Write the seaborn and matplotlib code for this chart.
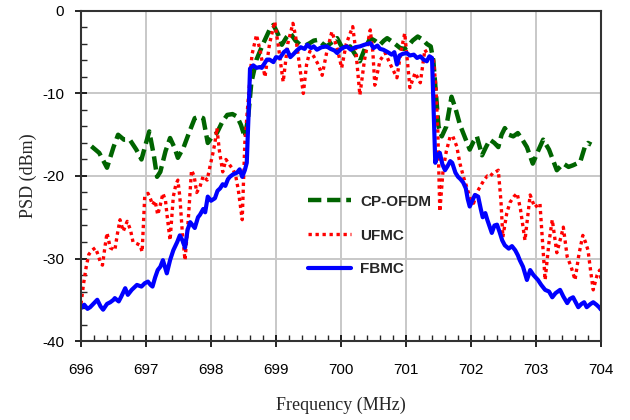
import pandas as pd
import seaborn as sns
import matplotlib.pyplot as plt
from matplotlib.ticker import MultipleLocator


sns.set_theme(style="white")
plt.rcParams["font.family"] = ["Liberation Sans", "DejaVu Sans"]
plt.rcParams["axes.unicode_minus"] = False

# CP-OFDM (green dashed)
ofdm_freq = [696.16, 696.28, 696.40, 696.50, 696.57, 696.66, 696.75, 696.85, 696.93, 697.00,
             697.05, 697.12, 697.17, 697.22, 697.30, 697.37, 697.44, 697.49, 697.58, 697.66,
             697.75, 697.82, 697.88, 697.95, 698.02, 698.09, 698.17, 698.25, 698.33, 698.40,
             698.46, 698.52, 698.57, 698.62, 698.70, 698.80, 698.90, 698.96, 699.03, 699.09,
             699.16, 699.22, 699.30, 699.37, 699.45, 699.52, 699.58, 699.65, 699.72, 699.78,
             699.86, 699.94, 700.00, 700.06, 700.14, 700.22, 700.29, 700.37, 700.45, 700.52,
             700.60, 700.66, 700.71, 700.80, 700.91, 700.97, 701.03, 701.10, 701.18, 701.26,
             701.32, 701.38, 701.42, 701.46, 701.50, 701.55, 701.62, 701.70, 701.76, 701.83,
             701.90, 701.98, 702.04, 702.09, 702.17, 702.23, 702.29, 702.36, 702.42, 702.47,
             702.52, 702.58, 702.65, 702.72, 702.79, 702.86, 702.95, 703.03, 703.11, 703.20,
             703.32, 703.42, 703.50, 703.57, 703.68, 703.75, 703.80, 703.85]
ofdm_psd = [-16.4, -17.2, -19.0, -16.5, -15.0, -15.6, -15.6, -16.8, -18.0, -16.0,
            -14.6, -17.5, -20.1, -19.5, -17.0, -15.4, -16.6, -17.8, -16.5, -14.8,
            -13.0, -12.8, -13.0, -16.0, -15.2, -14.8, -13.5, -12.6, -12.5, -12.8,
            -13.8, -15.3, -13.0, -8.7, -5.9, -4.0, -2.3, -1.7, -2.8, -4.1,
            -3.2, -2.7, -3.6, -4.1, -4.2, -3.9, -3.6, -3.5, -4.0, -4.3,
            -3.8, -3.3, -4.2, -4.7, -4.3, -5.3, -6.1, -4.5, -3.3, -3.6,
            -4.1, -3.6, -3.3, -3.8, -4.5, -4.6, -4.3, -3.6, -3.1, -3.5,
            -4.0, -4.3, -6.0, -10.0, -14.0, -15.2, -14.0, -10.4, -11.8, -13.8,
            -15.2, -16.8, -15.8, -15.2, -17.5, -16.5, -15.6, -16.0, -16.5, -15.0,
            -14.2, -15.0, -15.2, -14.8, -15.6, -16.5, -18.5, -17.0, -15.6, -16.8,
            -19.3, -18.5, -18.9, -18.7, -18.3, -16.5, -16.0, -16.2]

# UFMC (red dotted)
ufmc_freq = [696.00, 696.04, 696.08, 696.12, 696.17, 696.22, 696.26, 696.30, 696.33, 696.37,
             696.40, 696.45, 696.52, 696.56, 696.60, 696.65, 696.71, 696.76, 696.80, 696.86,
             696.91, 696.94, 696.98, 697.03, 697.07, 697.10, 697.14, 697.18, 697.22, 697.26,
             697.30, 697.32, 697.37, 697.42, 697.46, 697.49, 697.52, 697.56, 697.60, 697.65,
             697.70, 697.74, 697.78, 697.83, 697.88, 697.94, 697.98, 698.03, 698.06, 698.09,
             698.13, 698.18, 698.23, 698.29, 698.34, 698.38, 698.42, 698.48, 698.52, 698.58,
             698.63, 698.70, 698.76, 698.83, 698.90, 698.98, 699.04, 699.11, 699.18, 699.26,
             699.30, 699.36, 699.42, 699.47, 699.52, 699.58, 699.65, 699.71, 699.78, 699.86,
             699.94, 700.01, 700.08, 700.18, 700.23, 700.29, 700.36, 700.45, 700.49, 700.52,
             700.60, 700.68, 700.76, 700.86, 700.92, 700.98, 701.02, 701.06, 701.14, 701.22,
             701.29, 701.35, 701.42, 701.46, 701.49, 701.52, 701.57, 701.62, 701.68, 701.72,
             701.78, 701.83, 701.88, 701.94, 702.00, 702.04, 702.09, 702.14, 702.20, 702.25,
             702.29, 702.34, 702.38, 702.42, 702.46, 702.49, 702.55, 702.60, 702.66, 702.71,
             702.76, 702.83, 702.87, 702.91, 702.98, 703.03, 703.06, 703.11, 703.14, 703.20,
             703.25, 703.28, 703.32, 703.38, 703.42, 703.48, 703.54, 703.60, 703.66, 703.72,
             703.76, 703.80, 703.84, 703.88, 703.94, 703.98, 704.00]
ufmc_psd = [-35.5, -33.0, -31.0, -29.5, -29.0, -28.7, -29.5, -30.5, -30.8, -28.5,
            -26.9, -28.7, -29.0, -27.0, -25.3, -26.7, -25.5, -26.5, -28.0, -28.2,
            -28.4, -29.2, -22.5, -22.1, -22.8, -23.5, -23.0, -24.7, -23.5, -22.1,
            -23.0, -24.5, -27.8, -22.5, -21.0, -20.5, -22.5, -27.0, -30.2, -25.3,
            -19.3, -20.0, -22.0, -21.3, -20.0, -20.5, -19.0, -17.2, -16.0, -14.2,
            -17.0, -19.5, -18.0, -18.7, -19.2, -20.0, -21.7, -25.3, -16.0, -10.0,
            -5.3, -2.9, -5.0, -8.0, -4.0, -1.3, -4.5, -8.6, -4.0, -1.5,
            -3.0, -6.5, -10.0, -6.5, -4.9, -5.5, -6.5, -7.8, -5.0, -2.5,
            -4.5, -6.9, -4.0, -1.9, -5.0, -10.2, -6.0, -2.3, -5.0, -9.0,
            -6.0, -5.1, -6.5, -8.1, -5.0, -2.7, -6.0, -9.3, -7.5, -8.7,
            -4.7, -5.5, -5.7, -9.2, -14.8, -24.3, -19.3, -17.0, -15.2, -15.2,
            -16.4, -18.5, -20.0, -21.5, -23.0, -23.3, -22.0, -21.3, -20.5, -20.0,
            -20.1, -19.6, -19.5, -19.3, -23.0, -27.4, -24.5, -23.2, -22.5, -22.1,
            -24.0, -27.8, -25.0, -22.3, -23.8, -23.5, -23.3, -29.0, -32.6, -28.0,
            -25.3, -27.0, -29.3, -27.5, -26.2, -29.8, -31.0, -32.6, -29.5, -27.2,
            -28.0, -29.0, -31.5, -33.8, -32.0, -31.4, -32.6]

# FBMC (blue solid)
fbmc_freq = [696.00, 696.05, 696.10, 696.14, 696.20, 696.25, 696.30, 696.34, 696.40, 696.45,
             696.50, 696.52, 696.58, 696.62, 696.68, 696.72, 696.78, 696.82, 696.86, 696.93,
             696.98, 697.03, 697.07, 697.10, 697.14, 697.18, 697.22, 697.26, 697.32, 697.37,
             697.42, 697.48, 697.52, 697.56, 697.60, 697.64, 697.68, 697.72, 697.75, 697.80,
             697.83, 697.88, 697.91, 697.95, 698.00, 698.06, 698.10, 698.14, 698.18, 698.22,
             698.26, 698.29, 698.34, 698.40, 698.44, 698.48, 698.52, 698.55, 698.58, 698.60,
             698.65, 698.70, 698.75, 698.78, 698.86, 698.90, 698.96, 699.00, 699.06, 699.12,
             699.17, 699.22, 699.26, 699.32, 699.38, 699.44, 699.48, 699.54, 699.58, 699.63,
             699.70, 699.78, 699.84, 699.90, 699.94, 700.00, 700.05, 700.09, 700.15, 700.22,
             700.29, 700.36, 700.45, 700.50, 700.56, 700.60, 700.65, 700.72, 700.78, 700.82,
             700.86, 700.90, 700.95, 701.01, 701.06, 701.12, 701.17, 701.22, 701.27, 701.32,
             701.36, 701.40, 701.42, 701.45, 701.48, 701.52, 701.56, 701.60, 701.64, 701.68,
             701.71, 701.76, 701.80, 701.84, 701.88, 701.92, 701.95, 701.98, 702.02, 702.06,
             702.11, 702.15, 702.18, 702.22, 702.25, 702.29, 702.32, 702.36, 702.40, 702.44,
             702.48, 702.52, 702.58, 702.63, 702.68, 702.72, 702.75, 702.80, 702.86, 702.91,
             702.96, 703.03, 703.08, 703.14, 703.20, 703.25, 703.30, 703.37, 703.42, 703.48,
             703.52, 703.57, 703.61, 703.65, 703.70, 703.74, 703.78, 703.84, 703.88, 703.93,
             703.97, 704.00]
fbmc_psd = [-36.0, -35.6, -36.1, -35.9, -35.4, -35.0, -35.8, -36.2, -35.5, -35.3,
            -35.0, -34.8, -35.2, -34.6, -33.6, -34.4, -33.8, -33.5, -33.2, -33.4,
            -33.0, -32.8, -33.2, -33.4, -32.3, -31.4, -31.0, -30.2, -31.8, -30.2,
            -29.0, -28.0, -27.2, -27.8, -28.7, -26.5, -25.6, -26.0, -26.3, -25.0,
            -24.7, -24.0, -24.4, -22.5, -23.0, -22.7, -21.8, -21.5, -21.0, -21.2,
            -20.4, -20.1, -19.8, -19.6, -19.2, -20.1, -19.3, -18.4, -12.0, -7.0,
            -6.6, -6.9, -6.8, -6.9, -5.9, -5.9, -6.2, -5.6, -5.7, -5.0,
            -4.7, -5.6, -5.3, -4.8, -4.4, -4.6, -4.1, -4.5, -4.3, -4.7,
            -4.4, -4.3, -4.6, -4.8, -5.1, -4.6, -4.4, -4.3, -4.7, -4.4,
            -4.3, -4.1, -3.9, -4.5, -4.2, -4.6, -4.7, -5.0, -5.3, -5.0,
            -6.5, -5.4, -5.2, -5.1, -5.4, -5.3, -5.7, -5.5, -5.9, -6.1,
            -5.5, -5.7, -10.8, -18.4, -17.5, -17.2, -18.6, -19.3, -18.8, -18.2,
            -18.4, -19.6, -20.1, -20.4, -20.8, -21.5, -22.8, -23.7, -23.0, -22.3,
            -22.5, -24.0, -25.0, -24.5, -25.3, -26.2, -26.9, -26.0, -25.9, -26.8,
            -27.8, -28.4, -28.8, -28.5, -29.0, -29.6, -30.2, -31.0, -32.6, -31.4,
            -32.0, -32.6, -33.2, -33.8, -34.0, -34.7, -34.2, -33.8, -34.6, -35.4,
            -34.9, -34.7, -35.3, -35.9, -35.5, -35.3, -35.9, -35.5, -35.3, -35.6,
            -35.9, -36.2]


fig = plt.figure(figsize=(6.3, 4.2), dpi=100)
ax = fig.add_axes([0.1286, 0.188, 0.8254, 0.786])

sns.lineplot(x=ofdm_freq, y=ofdm_psd, ax=ax, color="#006400", linewidth=3.2,
             linestyle=(0, (3, 1.3)), sort=False, estimator=None, label="CP-OFDM")
sns.lineplot(x=ufmc_freq, y=ufmc_psd, ax=ax, color="#ff0000", linewidth=2.4,
             linestyle=(0, (1, 1.1)), sort=False, estimator=None, label="UFMC")
sns.lineplot(x=fbmc_freq, y=fbmc_psd, ax=ax, color="#0000ff", linewidth=3.0,
             sort=False, estimator=None, label="FBMC")

ax.set_xlim(696, 704)
ax.set_ylim(-40, 0)
ax.xaxis.set_major_locator(MultipleLocator(1))
ax.xaxis.set_minor_locator(MultipleLocator(0.2))
ax.yaxis.set_major_locator(MultipleLocator(10))
ax.yaxis.set_minor_locator(MultipleLocator(2))
ax.tick_params(which="major", direction="inout", length=8, width=1.2,
               labelsize=11, colors="black", bottom=True, left=True, pad=8)
ax.tick_params(axis="x", which="major", pad=12)
ax.tick_params(which="minor", direction="in", length=4, width=1,
               bottom=True, left=True)
ax.grid(True, which="major", color="#c8c8c8", linewidth=1.4)
for sp in ax.spines.values():
    sp.set_color("#333333")
    sp.set_linewidth(1.5)

ax.set_xlabel("Frequency (MHz)", family="Liberation Serif", fontsize=13, labelpad=14)
ax.set_ylabel("PSD (dBm)", family="Liberation Serif", fontsize=13, labelpad=4)

ax.legend(loc="upper left", bbox_to_anchor=(0.41, 0.485), frameon=False,
          prop={"weight": "bold", "size": 11}, handlelength=2.8,
          labelspacing=1.3, handletextpad=0.6)

plt.savefig("out.png", dpi=100)
